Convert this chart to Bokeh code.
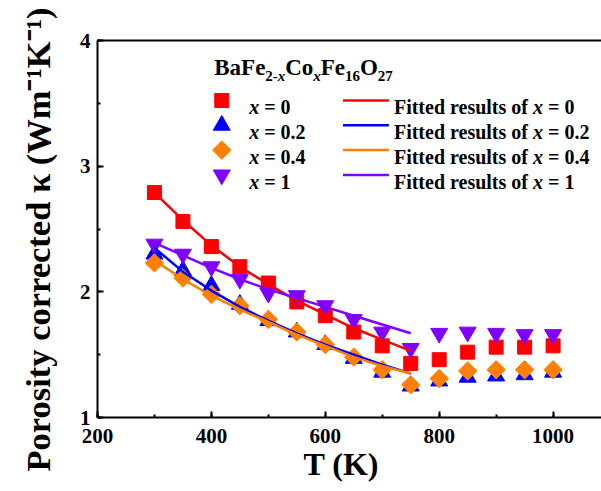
import numpy as np
from bokeh.plotting import figure
from bokeh.models import Range1d, LinearAxis, SingleIntervalTicker, FixedTicker, Label, Title
from bokeh.embed import file_html
from bokeh.resources import INLINE

# ---------------- data ----------------
T = [300, 350, 400, 450, 500, 550, 600, 650, 700, 750, 800, 850, 900, 950, 1000]
k_x0 = [2.79, 2.56, 2.36, 2.20, 2.07, 1.92, 1.81, 1.68, 1.57, 1.43, 1.46, 1.52, 1.56, 1.56, 1.57]
k_x02 = [2.30, 2.17, 2.05, 1.90, 1.77, 1.68, 1.58, 1.47, 1.36, 1.25, 1.29, 1.32, 1.33, 1.34, 1.36]
k_x04 = [2.23, 2.11, 1.98, 1.89, 1.78, 1.68, 1.58, 1.48, 1.38, 1.26, 1.31, 1.37, 1.38, 1.38, 1.38]
k_x1 = [2.38, 2.30, 2.20, 2.10, 1.99, 1.97, 1.89, 1.78, 1.68, 1.55, 1.67, 1.68, 1.67, 1.66, 1.66]

T_fit = [300, 350, 400, 450, 500, 550, 600, 650, 700, 750]
fit_x0 = [2.79, 2.57, 2.37, 2.20, 2.06, 1.93, 1.82, 1.71, 1.62, 1.53]
fit_x02 = [2.35, 2.16, 2.01, 1.88, 1.77, 1.67, 1.58, 1.50, 1.42, 1.35]
fit_x04 = [2.25, 2.10, 1.97, 1.86, 1.76, 1.66, 1.57, 1.48, 1.41, 1.35]
fit_x1 = [2.39, 2.29, 2.19, 2.10, 2.02, 1.95, 1.88, 1.81, 1.74, 1.67]

x_values = ["0", "0.2", "0.4", "1"]          # legend: x = ...
colors = ["#FF0000", "#0000FF", "#FF8000", "#8000FF"]
markers = ["square", "triangle", "square", "inverted_triangle"]
marker_sizes = [14, 17, 13, 17]
marker_angles = [0, 0, np.pi / 4, 0]

x_title = "T (K)"
y_title = "Porosity corrected κ (Wm⁻¹K⁻¹)"

FONT = "Liberation Serif"

# ---------------- figure ----------------
X0, X1 = 200, 1085.0
Y0, Y1 = 1, 4
W, H = 601, 491
ML, MR, MT, MB = 96, 0, 40, 74

p = figure(width=W, height=H, output_backend="svg", toolbar_location=None,
           x_range=Range1d(X0, X1), y_range=Range1d(Y0, Y1),
           min_border_left=ML, min_border_right=MR, min_border_top=MT, min_border_bottom=MB)
p.outline_line_color = None
p.grid.visible = False
p.background_fill_color = "white"
p.border_fill_color = "white"

p.xaxis.ticker = SingleIntervalTicker(interval=200, num_minor_ticks=2)
p.yaxis.ticker = SingleIntervalTicker(interval=1, num_minor_ticks=2)
for ax in (p.xaxis[0], p.yaxis[0]):
    ax.major_tick_in = 6
    ax.major_tick_out = 0
    ax.minor_tick_in = 3
    ax.minor_tick_out = 0
    ax.axis_line_width = 2
    ax.major_tick_line_width = 2
    ax.minor_tick_line_width = 2
    ax.major_label_text_font = FONT
    ax.major_label_text_font_style = "bold"
    ax.major_label_text_font_size = "21px"
    ax.major_label_text_color = "black"
p.xaxis.major_label_standoff = 11
p.yaxis.major_label_standoff = 7

top = LinearAxis(ticker=FixedTicker(ticks=[]), axis_line_width=2,
                 major_label_text_font_size="0px",
                 major_tick_line_color=None, minor_tick_line_color=None)
p.add_layout(top, "above")

# axis titles (as side-panel titles so that they can be placed like the reference)
p.add_layout(Title(text=x_title, align="left", offset=206, vertical_align="top",
                   standoff=0, text_font=FONT, text_font_style="bold", text_font_size="32px",
                   text_color="black"), "below")
p.add_layout(Title(text=y_title, align="left", offset=-54, vertical_align="top",
                   standoff=36, text_font=FONT, text_font_style="bold", text_font_size="34.5px",
                   text_color="black"), "left")

# ---------------- marks ----------------
series = [k_x0, k_x02, k_x04, k_x1]
for ys, m, s, a, c in zip(series, markers, marker_sizes, marker_angles, colors):
    p.scatter(T, ys, marker=m, size=s, angle=a, color=c)
for ys, c in zip([fit_x0, fit_x02, fit_x04, fit_x1], colors):
    p.line(T_fit, ys, color=c, line_width=2.5)

# ---------------- text helpers (page px -> data) ----------------
FRAME_LEFT_PX = ML
FRAME_BOTTOM_PX = H - MB
PX_PER_X = (W - ML - MR) / (X1 - X0)
PX_PER_Y = (H - MT - MB) / (Y1 - Y0)

def px_to_data(px, py):
    return X0 + (px - FRAME_LEFT_PX) / PX_PER_X, Y0 + (FRAME_BOTTOM_PX - py) / PX_PER_Y

W_BOLD = {"P": .611, "o": .5, "r": .444, "s": .389, "i": .278, "t": .333, "y": .5, " ": .25,
          "c": .444, "e": .444, "d": .556, "(": .333, "W": 1.0, "m": .833, "K": .778, ")": .333,
          "-": .333, "1": .5, "F": .611, "u": .556, "l": .278, "f": .333, "=": .570, "0": .5,
          ".": .25, "2": .5, "4": .5, "x": .5, "B": .667, "a": .5, "C": .722, "O": .778,
          "6": .5, "7": .5, "T": .667}
W_BI = {"x": .5, "T": .611, "κ": .56, " ": .25}

def text_width(txt, size, style):
    table = W_BI if "italic" in style else W_BOLD
    return sum(table.get(ch, .5) for ch in txt) * size

def place(pieces, x_px, y_px):
    """pieces: (text, size, style, raise_px); advance to the right, spaces only move the pen."""
    cur = 0.0
    for txt, size, style, rise in pieces:
        lead = len(txt) - len(txt.lstrip(" "))
        cur += text_width(" " * lead, size, style)
        core = txt.strip(" ")
        xd, yd = px_to_data(x_px + cur, y_px - rise)
        p.add_layout(Label(x=xd, y=yd, text=core, text_font=FONT, text_font_size=f"{size}px",
                           text_font_style=style, text_baseline="alphabetic", text_align="left",
                           text_color="black"))
        cur += text_width(txt.lstrip(" "), size, style)

# legend title BaFe(2-x)Co(x)Fe(16)O(27)
place([("BaFe", 23, "bold", 0), ("2-", 15, "bold", -8), ("x", 15, "bold italic", -8),
       ("Co", 23, "bold", 0), ("x", 15, "bold italic", -8), ("Fe", 23, "bold", 0),
       ("16", 15, "bold", -8), ("O", 23, "bold", 0), ("27", 15, "bold", -8)], 213, 67)

# legend entries
ROW0, PITCH = 100, 24.8
for i, (xv, m, s, a, c) in enumerate(zip(x_values, markers, marker_sizes, marker_angles, colors)):
    ry = ROW0 + PITCH * i
    mx, my = px_to_data(220.5, ry)
    p.scatter([mx], [my], marker=m, size=s, angle=a, color=c)
    place([("x", 20, "bold italic", 0), (" = " + xv, 20, "bold", 0)], 248, ry + 6.6)
    (lx0, ly), (lx1, _) = px_to_data(342, ry), px_to_data(388, ry)
    p.line([lx0, lx1], [ly, ly], color=c, line_width=2.5)
    place([("Fitted results of ", 20, "bold", 0), ("x", 20, "bold italic", 0),
           (" = " + xv, 20, "bold", 0)], 393, ry + 6.6)

open("out.html", "w").write(file_html(p, INLINE))
